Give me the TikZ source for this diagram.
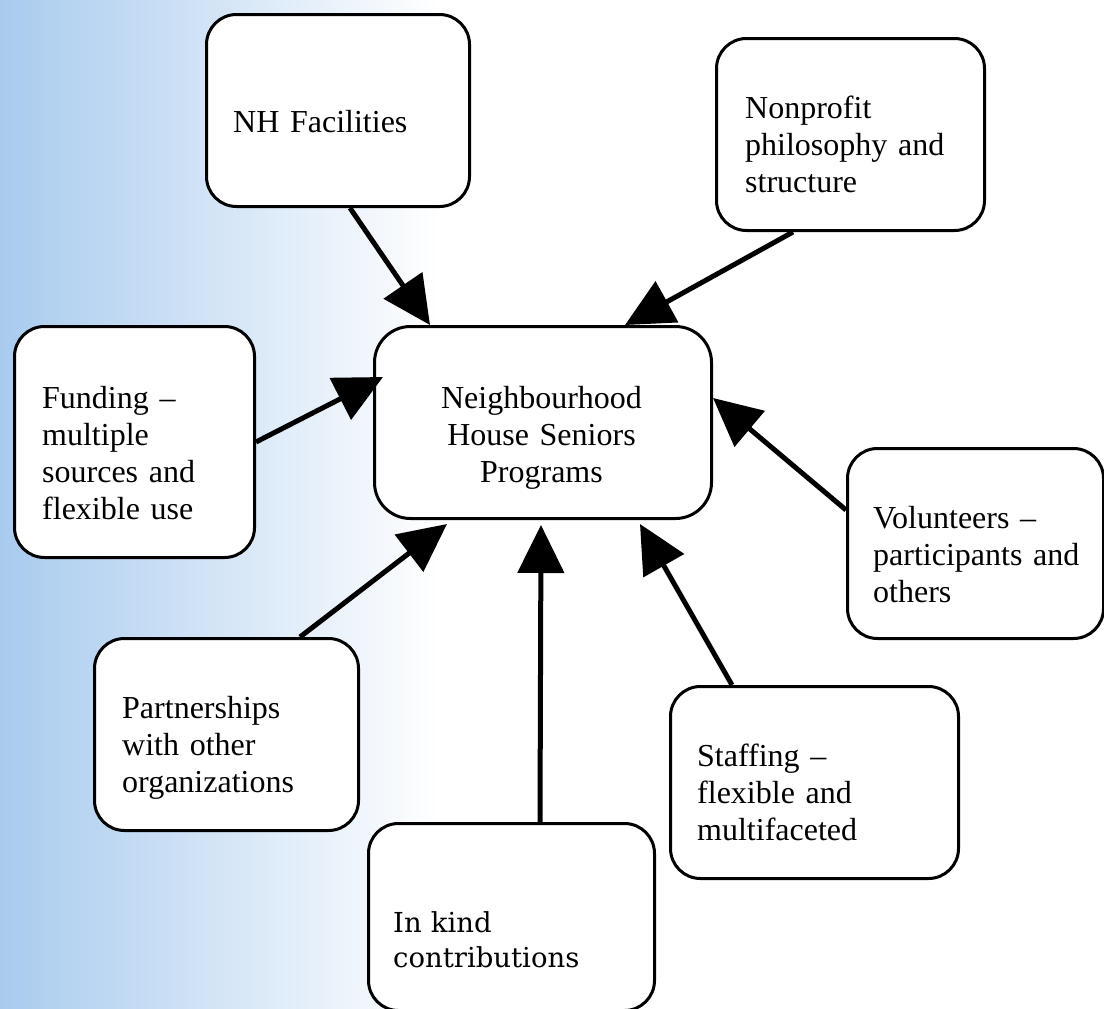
\documentclass[tikz,border=0pt]{standalone}
\usepackage{fontspec}
\setmainfont{Liberation Serif}
\newfontfamily\ikfont{DejaVu Serif}
\usetikzlibrary{arrows.meta}
\definecolor{sky}{RGB}{169,203,238}
\begin{document}
\begin{tikzpicture}[x=1pt,y=-1pt,
  box/.style={draw=black, line width=3pt, rounded corners=30pt, fill=white,
    inner sep=0pt, anchor=north west},
  lbl/.style={anchor=base west, inner sep=0pt, text width=300pt, align=left,
    font=\fontsize{32}{37}\selectfont},
  arr/.style={line width=5pt, -{Triangle[length=48pt,width=46pt]}}]

\useasboundingbox (0,0) rectangle (1104,1009);
% soft blue band on the left
\shade[left color=sky, right color=white] (0,0) rectangle (440,1009);

% boxes
\node[box, minimum width=263pt, minimum height=192pt] (nh)   at (205,13)  {};
\node[box, minimum width=268pt, minimum height=192pt] (np)   at (715,37)  {};
\node[box, minimum width=337pt, minimum height=192pt, rounded corners=36pt] (ctr) at (373,325) {};
\node[box, minimum width=240pt, minimum height=231pt] (fund) at (13,325)  {};
\node[box, minimum width=256pt, minimum height=190pt] (vol)  at (846,447) {};
\node[box, minimum width=264pt, minimum height=192pt] (part) at (93,637)  {};
\node[box, minimum width=288pt, minimum height=192pt] (st)   at (669,685) {};
\node[box, minimum width=286pt, minimum height=187pt] (ik)   at (367,822) {};

% texts
\node[lbl] (nhT)   at (233,132) {NH Facilities};
\node[lbl] (npT)   at (745,118) {Nonprofit\\philosophy and\\structure};
\node[lbl, anchor=base, align=center] (ctrT) at (541.5,408) {Neighbourhood\\House Seniors\\Programs};
\node[lbl] (fundT) at (42,408)  {Funding \textendash\\multiple\\sources and\\flexible use};
\node[lbl] (volT)  at (873,528) {Volunteers \textendash\\participants and\\others};
\node[lbl] (partT) at (122,718) {Partnerships\\with other\\organizations};
\node[lbl] (stT)   at (697,766) {Staffing \textendash\\flexible and\\multifaceted};
\node[lbl, font=\ikfont\fontsize{27.5}{35}\selectfont] (ikT) at (393,932) {In kind\\contributions};

% connectors into the central box
\draw[arr] ([xshift=145pt]nh.south west) -- ([xshift=57pt]ctr.north west);
\draw[arr] ([xshift=78pt]np.south west) -- ([xshift=252pt]ctr.north west);
\draw[arr] (fund.east) -- ([xshift=10pt,yshift=-52pt]ctr.north west);
\draw[arr] ([yshift=-63pt]vol.north west) -- ([yshift=-73pt]ctr.north east);
\draw[arr] ([xshift=207pt]part.north west) -- ([xshift=74pt,yshift=-4pt]ctr.south west);
\draw[arr] ([xshift=173pt]ik.north west) -- ([xshift=168pt,yshift=-5pt]ctr.south west);
\draw[arr] ([xshift=63pt]st.north west) -- ([xshift=267pt,yshift=-4pt]ctr.south west);
\end{tikzpicture}
\end{document}
